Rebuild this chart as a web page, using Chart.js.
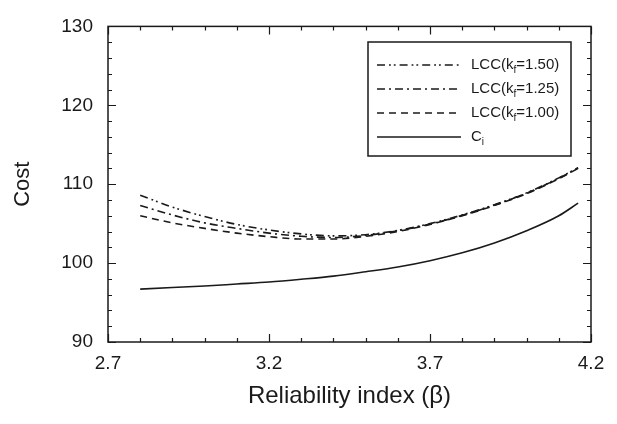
<!DOCTYPE html>
<html>
<head>
<meta charset="utf-8">
<script src="https://cdn.jsdelivr.net/npm/chart.js@4"></script>
<style>
    html, body { margin: 0; padding: 0; background: #fff; }
    #wrap { width: 617px; height: 424px; }
</style>
</head>
<body>
<div id="wrap"><canvas id="costChart" width="617" height="424"></canvas></div>
<script>
// values
const beta = [2.8, 2.9, 3.0, 3.1, 3.2, 3.3, 3.4, 3.5, 3.6, 3.7, 3.8, 3.9, 4.0, 4.1, 4.16];
const lcc150 = [108.6, 107.1, 105.9, 104.9, 104.2, 103.7, 103.45, 103.6, 104.15, 105.0, 106.1, 107.4, 108.9, 110.8, 112.1];
const lcc125 = [107.3, 106.1, 105.1, 104.4, 103.8, 103.4, 103.25, 103.5, 104.1, 104.95, 106.05, 107.35, 108.85, 110.75, 112.05];
const lcc100 = [106.0, 105.1, 104.4, 103.8, 103.35, 103.05, 103.05, 103.4, 104.0, 104.9, 106.0, 107.3, 108.8, 110.7, 112.0];
const costInit = [96.7, 96.9, 97.1, 97.35, 97.6, 97.95, 98.35, 98.9, 99.5, 100.3, 101.3, 102.55, 104.1, 106.0, 107.6];

// legend text: [main, subscript, rest]
const legendLabels = [
    ["LCC(k", "f", "=1.50)"],
    ["LCC(k", "f", "=1.25)"],
    ["LCC(k", "f", "=1.00)"],
    ["C", "i", ""]
];

const xTicks = [2.7, 3.2, 3.7, 4.2];
const yTicks = [90, 100, 110, 120, 130];

const INK = "#1a1a1a";
const FONT = "'Liberation Sans', Arial, sans-serif";

const dashes = {
    dashDotDot: [8, 4, 1.8, 3, 1.8, 4],
    dashDot: [8, 4, 2, 4],
    dashed: [7, 5],
    solid: []
};

function toPoints(ys) {
    return beta.map((b, i) => ({ x: b, y: ys[i] }));
}

function lineSet(label, ys, dash) {
    return {
        label: label,
        data: toPoints(ys),
        borderColor: INK,
        borderWidth: 1.6,
        borderDash: dash,
        pointRadius: 0,
        showLine: true,
        cubicInterpolationMode: "monotone",
        fill: false
    };
}

// box around the plot, inward ticks on all four sides
const frameAndTicks = {
    id: "frameAndTicks",
    afterDraw(chart) {
        const { ctx, chartArea: a, scales } = chart;
        const xs = scales.x, ys = scales.y;
        ctx.save();
        ctx.strokeStyle = INK;
        ctx.lineWidth = 1.5;
        ctx.setLineDash([]);
        ctx.strokeRect(a.left, a.top, a.right - a.left, a.bottom - a.top);

        ctx.lineWidth = 1.2;
        ctx.beginPath();
        for (let k = 0; k <= 15; k++) {
            const v = 2.7 + k * 0.1;
            const px = Math.round(xs.getPixelForValue(v)) + 0.5;
            const len = k % 5 === 0 ? 8 : 4;
            ctx.moveTo(px, a.bottom); ctx.lineTo(px, a.bottom - len);
            ctx.moveTo(px, a.top); ctx.lineTo(px, a.top + len);
        }
        for (let k = 0; k <= 20; k++) {
            const v = 90 + k * 2;
            const py = Math.round(ys.getPixelForValue(v)) + 0.5;
            const len = k % 5 === 0 ? 8 : 4;
            ctx.moveTo(a.left, py); ctx.lineTo(a.left + len, py);
            ctx.moveTo(a.right, py); ctx.lineTo(a.right - len, py);
        }
        ctx.stroke();
        ctx.restore();
    }
};

// legend with line samples and subscripts
const boxLegend = {
    id: "boxLegend",
    afterDraw(chart) {
        const { ctx } = chart;
        const bx = 368, by = 42, bw = 203, bh = 114;
        ctx.save();
        ctx.fillStyle = "#fff";
        ctx.fillRect(bx, by, bw, bh);
        ctx.strokeStyle = INK;
        ctx.lineWidth = 1.5;
        ctx.setLineDash([]);
        ctx.strokeRect(bx, by, bw, bh);

        chart.data.datasets.forEach((ds, i) => {
            const cy = 65 + i * 24;
            ctx.beginPath();
            ctx.lineWidth = 1.6;
            ctx.setLineDash(ds.borderDash);
            ctx.moveTo(377, cy);
            ctx.lineTo(461, cy);
            ctx.stroke();
            ctx.setLineDash([]);

            const [main, sub, rest] = legendLabels[i];
            ctx.fillStyle = INK;
            ctx.textBaseline = "middle";
            ctx.font = "15px " + FONT;
            let tx = 471;
            ctx.fillText(main, tx, cy);
            tx += ctx.measureText(main).width;
            ctx.font = "10px " + FONT;
            ctx.fillText(sub, tx, cy + 5);
            tx += ctx.measureText(sub).width;
            ctx.font = "15px " + FONT;
            ctx.fillText(rest, tx, cy);
        });
        ctx.restore();
    }
};

new Chart(document.getElementById("costChart"), {
    type: "scatter",
    data: {
        datasets: [
            lineSet("LCC(kf=1.50)", lcc150, dashes.dashDotDot),
            lineSet("LCC(kf=1.25)", lcc125, dashes.dashDot),
            lineSet("LCC(kf=1.00)", lcc100, dashes.dashed),
            lineSet("Ci", costInit, dashes.solid)
        ]
    },
    options: {
        responsive: false,
        animation: false,
        layout: { padding: { left: 0, right: 26, top: 18, bottom: 0 } },
        plugins: {
            legend: { display: false },
            tooltip: { enabled: false }
        },
        scales: {
            x: {
                type: "linear",
                min: 2.7,
                max: 4.2,
                afterFit: s => { s.height = 82; },
                afterBuildTicks: s => { s.ticks = xTicks.map(v => ({ value: v })); },
                ticks: {
                    color: INK,
                    padding: 10,
                    font: { family: FONT, size: 19 },
                    callback: v => v.toFixed(1)
                },
                grid: { display: false, drawTicks: false },
                border: { display: false },
                title: {
                    display: true,
                    text: "Reliability index (β)",
                    color: INK,
                    font: { family: FONT, size: 24 },
                    padding: { top: 10, bottom: 13 }
                }
            },
            y: {
                min: 90,
                max: 130,
                afterFit: s => { s.width = 108; },
                afterBuildTicks: s => { s.ticks = yTicks.map(v => ({ value: v })); },
                ticks: {
                    color: INK,
                    padding: 15,
                    font: { family: FONT, size: 19 }
                },
                grid: { display: false, drawTicks: false },
                border: { display: false },
                title: {
                    display: true,
                    text: "Cost",
                    color: INK,
                    font: { family: FONT, size: 22 },
                    padding: { top: 10, bottom: 10 }
                }
            }
        }
    },
    plugins: [frameAndTicks, boxLegend]
});
</script>
</body>
</html>
